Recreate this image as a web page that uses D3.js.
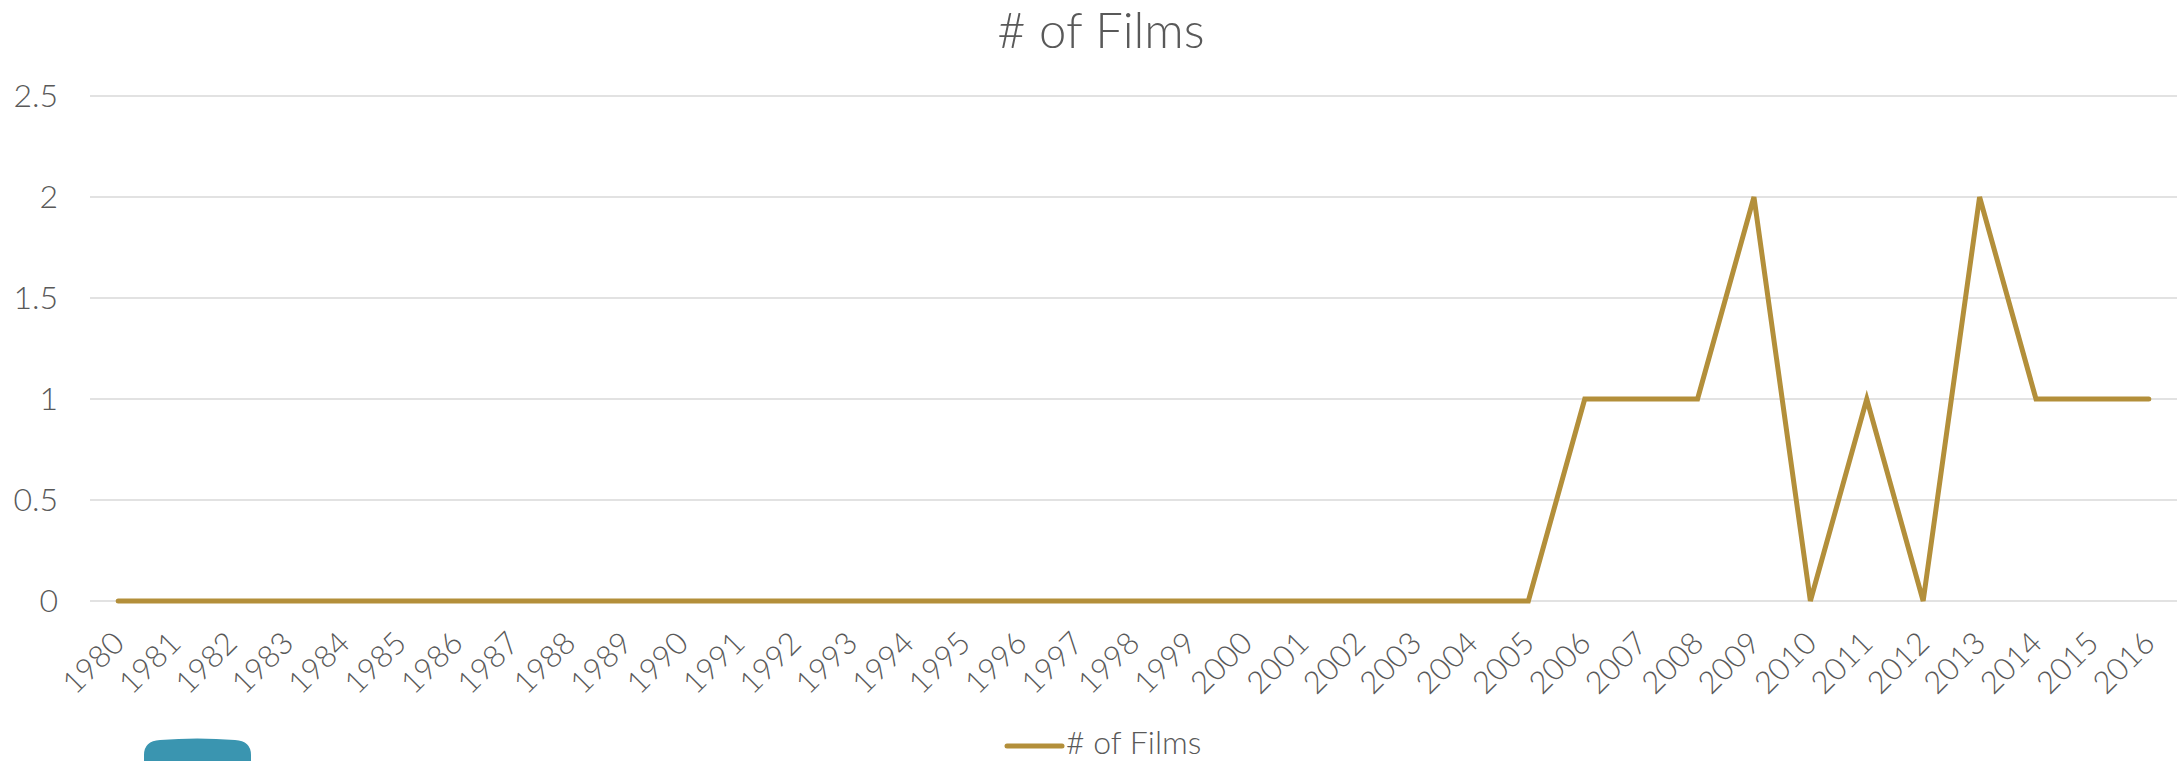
<!DOCTYPE html>
<html><head><meta charset="utf-8">
<script src="https://cdn.jsdelivr.net/npm/d3@7"></script>
<style>
html,body{margin:0;padding:0;background:#fff;}
svg{display:block;font-family:Lato,"Open Sans",sans-serif;font-weight:300;}
</style></head>
<body>
<svg id="chart" width="2180" height="761"></svg>
<script>
const years = ["1980","1981","1982","1983","1984","1985","1986","1987","1988","1989","1990","1991","1992","1993","1994","1995","1996","1997","1998","1999","2000","2001","2002","2003","2004","2005","2006","2007","2008","2009","2010","2011","2012","2013","2014","2015","2016"];
const films = [0,0,0,0,0,0,0,0,0,0,0,0,0,0,0,0,0,0,0,0,0,0,0,0,0,0,1,1,1,2,0,1,0,2,1,1,1];
const yTicks = [0,0.5,1,1.5,2,2.5];
const seriesName = "# of Films";
const title = "# of Films";

const svg = d3.select("#chart");
const x = d3.scaleBand().domain(years).range([90,2177]);
const y = d3.scaleLinear().domain([0,2.5]).range([601,96]);
const textColor = "#595959";
const ff = "Lato,'Open Sans',sans-serif";

// title
svg.append("text").attr("x",1101).attr("y",48).attr("text-anchor","middle")
  .attr("font-size",49).attr("fill",textColor).text(title);

// gridlines
svg.append("g").selectAll("line").data(yTicks).join("line")
  .attr("x1",90).attr("x2",2177)
  .attr("y1",d=>y(d)).attr("y2",d=>y(d))
  .attr("stroke","#d9d9d9").attr("stroke-width",1.5);

// y axis labels
const yAxis = d3.axisLeft(y).tickValues(yTicks).tickSize(0).tickPadding(0).tickFormat(d=>String(d));
const gy = svg.append("g").attr("transform","translate(58,0)").call(yAxis);
gy.select(".domain").remove();
gy.selectAll("text").attr("font-size",32).attr("fill",textColor).attr("font-family",ff).attr("font-weight",300);

// x axis labels
const xAxis = d3.axisBottom(x).tickSize(0).tickPadding(0);
const gx = svg.append("g").call(xAxis);
gx.select(".domain").remove();
gx.selectAll(".tick").attr("transform",d=>`translate(${x(d)+x.bandwidth()/2},0)`);
gx.selectAll("text")
  .attr("font-size",31).attr("fill",textColor).attr("font-family",ff).attr("font-weight",300)
  .attr("text-anchor","end").attr("dy",null).attr("y",null)
  .attr("transform","translate(8,645) rotate(-45)");

// line
const line = d3.line().x((d,i)=>x(years[i])+x.bandwidth()/2).y(d=>y(d));
svg.append("path").datum(films).attr("d",line)
  .attr("fill","none").attr("stroke","#B38F3A").attr("stroke-width",5)
  .attr("stroke-linejoin","miter").attr("stroke-linecap","round");

// legend
svg.append("line").attr("x1",1007).attr("x2",1062).attr("y1",746).attr("y2",746)
  .attr("stroke","#B38F3A").attr("stroke-width",5).attr("stroke-linecap","round");
svg.append("text").attr("x",1066).attr("y",754).attr("font-size",32).attr("fill",textColor).text(seriesName);

// teal decorative shape
svg.append("path").attr("d","M144,755 Q144,741 160,740 Q197,737 235,740 Q251,741 251,755 L251,770 L144,770 Z")
  .attr("fill","#3A95B0");
</script>
</body></html>
